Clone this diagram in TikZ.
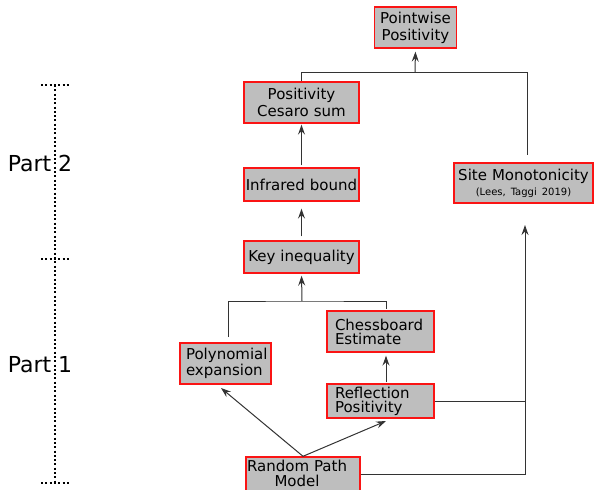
\documentclass[tikz,border=0pt]{standalone}
\usepackage{fontspec}
\setmainfont{DejaVu Sans}
\usetikzlibrary{arrows.meta,calc}
\definecolor{boxgray}{RGB}{190,190,190}
\definecolor{boxred}{RGB}{250,20,20}
\begin{document}
\begin{tikzpicture}[x=1pt,y=-1pt,
  box/.style={draw=boxred, line width=1.4pt, fill=boxgray, inner ysep=0pt, anchor=center},
  cbox/.style={box, align=center, font=\fontsize{15}{17}\selectfont},
  lbox/.style={box, align=left, font=\fontsize{15}{14}\selectfont},
  conn/.style={draw=black!80, line width=1pt},
  arr/.style={conn, -{Stealth[length=10pt,width=7pt,inset=3.5pt]}},
  dotline/.style={line width=2pt, dash pattern=on 2pt off 2.3pt, black},
  partlabel/.style={font=\fontsize{22}{22}\selectfont, inner sep=0pt}
]
\useasboundingbox (0,0) rectangle (595,490);

% boxes
\node[cbox, text width=74pt, inner xsep=4pt, minimum height=41pt] (pw) at (415.5,27.5) {Pointwise\\Positivity};
\node[cbox, text width=107pt, inner xsep=4pt, minimum height=41pt] (ces) at (301.5,102.5) {Positivity\\Cesaro sum};
\node[cbox, text width=113pt, inner xsep=1pt, minimum height=33pt] (ir) at (301.5,184.5) {Infrared bound};
\node[box, align=center, font=\fontsize{15}{15}\selectfont, text width=135pt, inner xsep=2pt, minimum height=40pt] (sm) at (523.5,183) {Site Monotonicity\\{\fontsize{10}{10}\selectfont (Lees, Taggi 2019)}};
\node[cbox, text width=111pt, inner xsep=2pt, minimum height=32pt] (key) at (301.5,257) {Key inequality};
\node[lbox, text width=91pt, inner xsep=8pt, minimum height=41pt] (chess) at (380.5,331.5) {Chessboard\\Estimate};
\node[lbox, text width=79pt, inner xsep=6pt, minimum height=41pt] (poly) at (225.5,363.5) {Polynomial\\expansion};
\node[lbox, text width=91pt, inner xsep=8pt, minimum height=34pt] (refl) at (380.5,401) {Reflection\\Positivity};
\node[lbox, text width=112pt, inner xsep=1pt, minimum height=37pt] (rpm) at (303,475.5) {\begin{tabular}{@{}c@{}}Random Path\\Model\end{tabular}};

% junction coordinates
\coordinate (j1) at (415,72.5);
\coordinate (smt) at (527,155);
\coordinate (j2) at (302,301);
\coordinate (pt) at (228,337);
\coordinate (ct) at (386,309);
\coordinate (pend) at (221,388);
\coordinate (rend) at (386,421);
\coordinate (c1) at (525,474);
\coordinate (smb) at (525,225);

% connectors
\draw[conn] (ces.north) |- (j1) -| (smt);
\draw[arr, shorten >=3pt] (j1) -- (pw.south);
\draw[arr, shorten <=2pt, shorten >=1pt] (ir.north) -- (ces.south);
\draw[arr, shorten <=4pt, shorten >=7pt] (key.north) -- (ir.south);
\draw[conn] (pt) |- (j2) -| (ct);
\draw[arr, shorten >=2pt] (j2) -- (key.south);
\draw[arr, shorten <=1pt, shorten >=3pt] (refl.north -| ct) -- (chess.south -| ct);
\draw[arr] (rpm.north) -- (pend);
\draw[arr] (rpm.north) -- (rend);
\draw[arr] (c1 -| rpm.east) -- (c1) -- (smb);
\draw[conn] (refl.east) -- (refl.east -| c1);

% part labels
\node[partlabel] (p2) at (40,163) {Part 2};
\node[partlabel] (p1) at (40,365) {Part 1};

% dotted bracket
\coordinate (tt) at (55,85);
\coordinate (tm) at (55,259);
\coordinate (tb) at (55,483);
\draw[dotline] (tt) -- (tb);
\draw[dotline] ($(tt)+(-14,0)$) -- ($(tt)+(16,0)$);
\draw[dotline] ($(tm)+(-14,0)$) -- ($(tm)+(16,0)$);
\draw[dotline] ($(tb)+(-14,0)$) -- ($(tb)+(16,0)$);
\end{tikzpicture}
\end{document}
